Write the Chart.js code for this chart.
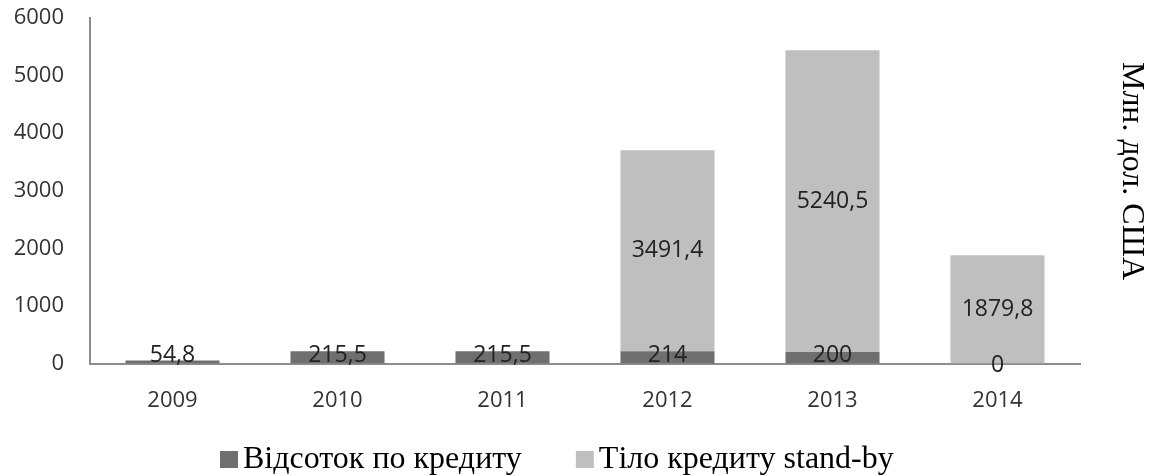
<!DOCTYPE html>
<html>
<head>
<meta charset="utf-8">
<script src="https://cdn.jsdelivr.net/npm/chart.js@4/dist/chart.umd.min.js"></script>
<style>
  html, body { margin: 0; padding: 0; background: #fff; }
  #wrap { width: 1160px; height: 476px; position: relative; }
</style>
</head>
<body>
<div id="wrap"><canvas id="chart" width="1160" height="476"></canvas></div>
<script>
const years = ['2009', '2010', '2011', '2012', '2013', '2014'];
const interest = [54.8, 215.5, 215.5, 214, 200, 0];
const principal = [null, null, null, 3491.4, 5240.5, 1879.8];
const yTicks = [0, 1000, 2000, 3000, 4000, 5000, 6000];

const tickFont = { family: 'Open Sans', size: 22 };

// value labels centred in each segment, comma as decimal separator
const segmentLabels = {
    id: 'segmentLabels',
    afterDatasetsDraw(chart) {
        const ctx = chart.ctx;
        ctx.save();
        ctx.font = '23px "Open Sans"';
        ctx.fillStyle = '#222';
        ctx.textAlign = 'center';
        ctx.textBaseline = 'middle';
        chart.data.datasets.forEach((ds, i) => {
            chart.getDatasetMeta(i).data.forEach((bar, j) => {
                const v = ds.data[j];
                if (v === null) return;
                const p = bar.getProps(['x', 'y', 'base'], true);
                let y = Math.min((p.y + p.base) / 2, p.base - 8);
                if (v === 0) y = p.base + 2;
                ctx.fillText(String(v).replace('.', ','), p.x, y);
            });
        });
        ctx.restore();
    }
};

// legend and unit caption, placed like the original
const captions = {
    id: 'captions',
    afterDraw(chart) {
        const ctx = chart.ctx;
        ctx.save();
        ctx.font = '32px "Liberation Serif"';
        ctx.fillStyle = '#000';
        ctx.textBaseline = 'middle';
        let x = 220;
        chart.data.datasets.forEach(ds => {
            ctx.fillStyle = ds.backgroundColor;
            ctx.fillRect(x, 451, 18, 17);
            ctx.fillStyle = '#000';
            ctx.textAlign = 'left';
            ctx.fillText(ds.label, x + 23, 460);
            x += 23 + ctx.measureText(ds.label).width + 54;
        });
        ctx.translate(1131, 171);
        ctx.rotate(Math.PI / 2);
        ctx.textAlign = 'center';
        ctx.fillText('Млн. дол. США', 0, 0);
        ctx.restore();
    }
};

new Chart(document.getElementById('chart'), {
    type: 'bar',
    data: {
        labels: years,
        datasets: [{
            label: 'Відсоток по кредиту',
            data: interest,
            backgroundColor: '#6f6f6f',
            barPercentage: 0.57,
            categoryPercentage: 1
        }, {
            label: 'Тіло кредиту stand-by',
            data: principal,
            backgroundColor: '#bfbfbf',
            barPercentage: 0.57,
            categoryPercentage: 1
        }]
    },
    options: {
        responsive: false,
        animation: false,
        layout: { padding: { top: 18, right: 80, left: 0, bottom: 46 } },
        plugins: {
            legend: { display: false },
            tooltip: { enabled: false }
        },
        scales: {
            x: {
                stacked: true,
                grid: { display: false },
                border: { color: '#8c8c8c', width: 2 },
                ticks: { font: tickFont, color: '#333', padding: 16 }
            },
            y: {
                stacked: true,
                min: 0,
                max: 6000,
                afterBuildTicks(axis) { axis.ticks = yTicks.map(v => ({ value: v })); },
                afterFit(axis) {
                    axis.width = 90;
                    axis.paddingTop = 0;
                    axis.paddingBottom = 0;
                },
                grid: { display: false, drawTicks: false },
                border: { color: '#8c8c8c', width: 2 },
                ticks: { font: tickFont, color: '#333', padding: 26, callback: v => String(v) }
            }
        }
    },
    plugins: [segmentLabels, captions]
});
</script>
</body>
</html>
